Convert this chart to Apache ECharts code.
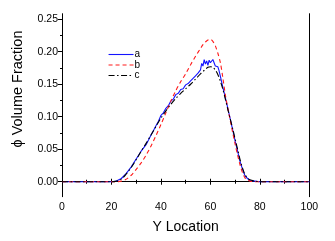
<!DOCTYPE html>
<html>
<head>
<meta charset="utf-8">
<script src="https://cdn.jsdelivr.net/npm/echarts@6/dist/echarts.min.js"></script>
<style>html,body{margin:0;padding:0;background:#fff}#c{width:335px;height:241px}</style>
</head>
<body>
<div id="c"></div>
<script>
// ---- data ----
var seriesNames = ['a', 'b', 'c'];
var xTicks = [0, 20, 40, 60, 80, 100];
var yTicks = [0, 0.05, 0.10, 0.15, 0.20, 0.25];
var yMinorTicks = [0.025, 0.075, 0.125, 0.175, 0.225];

var xA = [0, 5, 10, 15, 20, 22, 24, 26, 28, 30, 32, 34, 36, 37, 38, 39, 40, 41, 42, 43, 44, 45, 46, 47, 48, 49, 50, 51, 52, 53, 54, 55, 56, 56.5, 57, 57.5, 58, 58.5, 59, 59.5, 60, 60.5, 61, 61.5, 62, 62.5, 63, 63.5, 64, 65, 66, 67, 68, 69, 70, 71, 72, 73, 74, 75, 76, 78, 80, 85, 90, 95, 100];
var yA = [0, 0, 0, 0, 0, 0.001, 0.005, 0.013, 0.023, 0.035, 0.047, 0.057, 0.072, 0.079, 0.086, 0.093, 0.102, 0.106, 0.113, 0.117, 0.124, 0.127, 0.134, 0.136, 0.142, 0.143, 0.149, 0.151, 0.155, 0.159, 0.163, 0.167, 0.172, 0.182, 0.178, 0.188, 0.181, 0.186, 0.179, 0.187, 0.183, 0.181, 0.188, 0.186, 0.178, 0.176, 0.177, 0.171, 0.163, 0.146, 0.130, 0.114, 0.097, 0.080, 0.063, 0.047, 0.031, 0.019, 0.009, 0.005, 0.002, 0.001, 0, 0, 0, 0, 0];

var xB = [0, 5, 10, 15, 20, 22, 24, 26, 28, 30, 32, 34, 36, 38, 40, 42, 44, 46, 48, 50, 52, 54, 56, 57, 58, 59, 60, 61, 62, 63, 64, 65, 66, 67, 68, 69, 70, 71, 72, 73, 74, 75, 76, 78, 80, 85, 90, 95, 100];
var yB = [0, 0, 0, 0, 0, 0, 0.001, 0.004, 0.010, 0.019, 0.029, 0.041, 0.055, 0.071, 0.088, 0.106, 0.124, 0.140, 0.154, 0.166, 0.180, 0.193, 0.205, 0.211, 0.215, 0.218, 0.219, 0.216, 0.209, 0.198, 0.184, 0.161, 0.135, 0.114, 0.095, 0.076, 0.058, 0.041, 0.026, 0.014, 0.006, 0.003, 0.001, 0, 0, 0, 0, 0, 0];

var xC = [0, 5, 10, 15, 20, 22, 24, 26, 28, 30, 32, 34, 36, 38, 40, 42, 44, 46, 48, 50, 52, 54, 56, 58, 59, 60, 61, 62, 63, 64, 65, 66, 67, 68, 69, 70, 71, 72, 73, 74, 75, 76, 78, 80, 85, 90, 95, 100];
var yC = [0, 0, 0, 0, 0, 0.001, 0.004, 0.012, 0.022, 0.034, 0.047, 0.059, 0.072, 0.085, 0.098, 0.109, 0.119, 0.128, 0.136, 0.143, 0.150, 0.158, 0.166, 0.173, 0.176, 0.177, 0.176, 0.172, 0.165, 0.155, 0.143, 0.128, 0.112, 0.097, 0.082, 0.066, 0.050, 0.034, 0.021, 0.011, 0.006, 0.003, 0.001, 0, 0, 0, 0, 0];

function zip(xs, ys) { return xs.map(function (x, i) { return [x, ys[i]]; }); }

var FONT = 'Liberation Sans, Arial, sans-serif';
var chart = echarts.init(document.getElementById('c'), null, { renderer: 'canvas' });
var yMin = -0.023, yMax = 0.2585;
var option = {
  animation: false,
  backgroundColor: '#fff',
  grid: [{ left: 62, right: 25.7, top: 13.7, bottom: 44.3, show: false }],
  legend: {
    left: 103, top: 44.5, orient: 'vertical',
    itemWidth: 25, itemHeight: 10, itemGap: 0.5,
    itemStyle: { opacity: 0 },
    lineStyle: { width: 1.1 },
    textStyle: { fontFamily: FONT, fontSize: 10, color: '#000', padding: [0, 0, 0, -4], lineHeight: 10 },
    data: seriesNames
  },
  xAxis: [
    {
      type: 'value', position: 'bottom', min: 0, max: 100, interval: 20,
      axisLine: { show: true, lineStyle: { color: '#000', width: 1 } },
      axisTick: { show: true, length: 3, lineStyle: { color: '#000' } },
      minorTick: { show: true, splitNumber: 2, length: 2, lineStyle: { color: '#000' } },
      splitLine: { show: false },
      axisLabel: { fontFamily: FONT, fontSize: 10.5, color: '#000', margin: 5,
        customValues: xTicks },
      name: 'Y Location', nameLocation: 'middle', nameGap: 23,
      nameTextStyle: { fontFamily: FONT, fontSize: 14, color: '#000' }
    },
    {
      type: 'value', position: 'top', min: 0, max: 100, interval: 20,
      axisLine: { show: true, lineStyle: { color: '#000', width: 1 } },
      axisTick: { show: true, length: 3, lineStyle: { color: '#000' } },
      minorTick: { show: true, splitNumber: 2, length: 2, lineStyle: { color: '#000' } },
      splitLine: { show: false }, axisLabel: { show: false }
    }
  ],
  yAxis: [
    {
      type: 'value', position: 'left', min: yMin, max: yMax,
      axisLine: { show: true, onZero: false, lineStyle: { color: '#000', width: 1 } },
      axisTick: { show: true, length: 4, customValues: yTicks, lineStyle: { color: '#000' } },
      splitLine: { show: false },
      axisLabel: { fontFamily: FONT, fontSize: 10.5, color: '#000', margin: 4, customValues: yTicks,
        formatter: function (v) { return v.toFixed(2); } }
    },
    {
      type: 'value', position: 'left', min: yMin, max: yMax,
      axisLine: { show: false },
      axisTick: { show: true, length: 2, customValues: yMinorTicks, lineStyle: { color: '#000' } },
      splitLine: { show: false },
      axisLabel: { show: false, customValues: yMinorTicks }
    },
    {
      type: 'value', position: 'right', min: yMin, max: yMax,
      axisLine: { show: true, onZero: false, lineStyle: { color: '#000', width: 1 } },
      axisTick: { show: false }, splitLine: { show: false }, axisLabel: { show: false }
    }
  ],
  graphic: [{
    type: 'text', x: 18, y: 89, rotation: Math.PI / 2,
    style: { text: 'ϕ Volume Fraction', fontFamily: FONT, fontSize: 14.5, fill: '#000',
      align: 'center', verticalAlign: 'middle' }
  }],
  series: [
    { name: 'a', type: 'line', data: zip(xA, yA), showSymbol: false, symbol: 'none',
      lineStyle: { color: '#1414ff', width: 1.1, type: 'solid' }, itemStyle: { color: '#1414ff' } },
    { name: 'b', type: 'line', data: zip(xB, yB), showSymbol: false, symbol: 'none', smooth: 0.3,
      lineStyle: { color: '#ff1a1a', width: 1.1, type: [4, 3] }, itemStyle: { color: '#ff1a1a' } },
    { name: 'c', type: 'line', data: zip(xC, yC), showSymbol: false, symbol: 'none', smooth: 0.3,
      lineStyle: { color: '#000', width: 1.1, type: [6, 2.5, 1.5, 2.5] }, itemStyle: { color: '#000' } }
  ]
};
chart.setOption(option);
</script>
</body>
</html>
